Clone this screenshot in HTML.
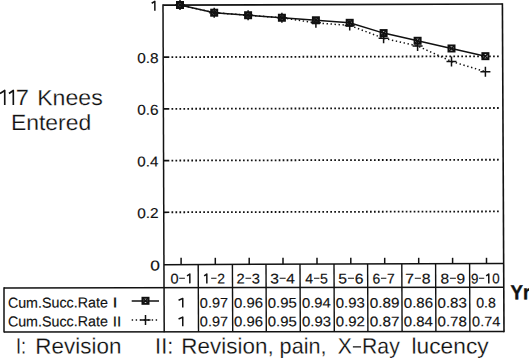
<!DOCTYPE html>
<html><head><meta charset="utf-8"><style>
html,body{margin:0;padding:0;background:#fff;width:529px;height:358px;overflow:hidden}
svg{display:block;font-family:"Liberation Sans", sans-serif;font-kerning:none;text-rendering:geometricPrecision}
</style></head><body>
<svg width="529" height="358" viewBox="0 0 529 358">
<rect width="529" height="358" fill="#fff"/>
<g transform="rotate(-0.17 2.85 105.10)"><path d="M0.00 93.46 L4.76 90.47 V105.10" fill="none" stroke="#111" stroke-width="1.65" stroke-linejoin="round" stroke-linecap="butt"/></g>
<g transform="rotate(-0.17 11.60 105.10)"><path d="M9.00 93.46 L13.34 90.47 V105.10" fill="none" stroke="#111" stroke-width="1.65" stroke-linejoin="round" stroke-linecap="butt"/></g>
<g transform="rotate(-0.17 22.40 105.10)"><text x="15.78" y="105.10" font-size="22" textLength="13.21" lengthAdjust="spacingAndGlyphs" fill="#111" stroke="#fff" stroke-width="0.2">7</text></g>
<g transform="rotate(-0.17 70.55 105.10)"><text x="37.20" y="105.10" font-size="22" textLength="65.64" lengthAdjust="spacingAndGlyphs" fill="#111" stroke="#fff" stroke-width="0.2">Knees</text></g>
<g transform="rotate(-0.17 51.30 130.00)"><text x="10.92" y="130.00" font-size="22" textLength="80.36" lengthAdjust="spacingAndGlyphs" fill="#111" stroke="#fff" stroke-width="0.2">Entered</text></g>
<g transform="rotate(-0.17 153.60 10.80)"><path d="M151.70 3.24 L154.87 1.29 V10.80" fill="none" stroke="#111" stroke-width="1.50" stroke-linejoin="round" stroke-linecap="butt"/></g>
<g transform="rotate(-0.17 147.85 62.95)"><text x="137.20" y="62.95" font-size="14.3" textLength="21.37" lengthAdjust="spacingAndGlyphs" fill="#111" stroke="#111" stroke-width="0.15">0.8</text></g>
<g transform="rotate(-0.17 147.85 114.67)"><text x="137.20" y="114.67" font-size="14.3" textLength="21.38" lengthAdjust="spacingAndGlyphs" fill="#111" stroke="#111" stroke-width="0.15">0.6</text></g>
<g transform="rotate(-0.17 147.85 166.40)"><text x="137.21" y="166.40" font-size="14.3" textLength="21.14" lengthAdjust="spacingAndGlyphs" fill="#111" stroke="#111" stroke-width="0.15">0.4</text></g>
<g transform="rotate(-0.17 147.85 218.12)"><text x="137.20" y="218.12" font-size="14.3" textLength="21.48" lengthAdjust="spacingAndGlyphs" fill="#111" stroke="#111" stroke-width="0.15">0.2</text></g>
<g transform="rotate(-0.17 155.15 270.40)"><text x="150.32" y="270.40" font-size="14.3" textLength="9.66" lengthAdjust="spacingAndGlyphs" fill="#111" stroke="#111" stroke-width="0.15">0</text></g>
<line x1="163.5" y1="57.12" x2="169.3" y2="57.11" stroke="#111" stroke-width="1.7"/>
<line x1="171.5" y1="57.10" x2="500" y2="56.28" stroke="#111" stroke-width="1.8" stroke-dasharray="1.7 2.27"/>
<line x1="163.5" y1="108.84" x2="169.3" y2="108.83" stroke="#111" stroke-width="1.7"/>
<line x1="171.5" y1="108.82" x2="500" y2="108.00" stroke="#111" stroke-width="1.8" stroke-dasharray="1.7 2.27"/>
<line x1="163.5" y1="160.56" x2="169.3" y2="160.55" stroke="#111" stroke-width="1.7"/>
<line x1="171.5" y1="160.54" x2="500" y2="159.72" stroke="#111" stroke-width="1.8" stroke-dasharray="1.7 2.27"/>
<line x1="163.5" y1="212.28" x2="169.3" y2="212.27" stroke="#111" stroke-width="1.7"/>
<line x1="171.5" y1="212.26" x2="500" y2="211.44" stroke="#111" stroke-width="1.8" stroke-dasharray="1.7 2.27"/>
<path d="M163.2 5.1 L502.4 4.0" stroke="#111" stroke-width="1.7" fill="none"/>
<path d="M163.0 4.3 L164.2 332.3" stroke="#111" stroke-width="1.5" fill="none"/>
<path d="M502.4 3.2 L504.0 332.3" stroke="#111" stroke-width="1.6" fill="none"/>
<path d="M164 264.7 L503.5 263.4" stroke="#111" stroke-width="1.5" fill="none"/>
<line x1="181.10" y1="257.8" x2="181.10" y2="264.64" stroke="#111" stroke-width="1.5"/>
<line x1="215.30" y1="257.8" x2="215.30" y2="264.51" stroke="#111" stroke-width="1.5"/>
<line x1="249.20" y1="257.8" x2="249.20" y2="264.38" stroke="#111" stroke-width="1.5"/>
<line x1="283.00" y1="257.8" x2="283.00" y2="264.25" stroke="#111" stroke-width="1.5"/>
<line x1="317.00" y1="257.8" x2="317.00" y2="264.12" stroke="#111" stroke-width="1.5"/>
<line x1="350.80" y1="257.8" x2="350.80" y2="263.99" stroke="#111" stroke-width="1.5"/>
<line x1="384.70" y1="257.8" x2="384.70" y2="263.86" stroke="#111" stroke-width="1.5"/>
<line x1="418.70" y1="257.8" x2="418.70" y2="263.73" stroke="#111" stroke-width="1.5"/>
<line x1="452.60" y1="257.8" x2="452.60" y2="263.60" stroke="#111" stroke-width="1.5"/>
<line x1="486.50" y1="257.8" x2="486.50" y2="263.47" stroke="#111" stroke-width="1.5"/>
<path d="M4 288 L503.5 287.2" stroke="#111" stroke-width="1.5" fill="none"/>
<path d="M4 331.9 L504 331.6" stroke="#111" stroke-width="1.5" fill="none"/>
<path d="M4 287.3 V332.6" stroke="#111" stroke-width="1.5" fill="none"/>
<line x1="198.2" y1="264" x2="198.5" y2="331.9" stroke="#111" stroke-width="1.4"/>
<line x1="232.4" y1="264" x2="232.70000000000002" y2="331.9" stroke="#111" stroke-width="1.4"/>
<line x1="266" y1="264" x2="266.3" y2="331.9" stroke="#111" stroke-width="1.4"/>
<line x1="300" y1="264" x2="300.3" y2="331.9" stroke="#111" stroke-width="1.4"/>
<line x1="334" y1="264" x2="334.3" y2="331.9" stroke="#111" stroke-width="1.4"/>
<line x1="367.6" y1="264" x2="367.90000000000003" y2="331.9" stroke="#111" stroke-width="1.4"/>
<line x1="401.8" y1="264" x2="402.1" y2="331.9" stroke="#111" stroke-width="1.4"/>
<line x1="435.6" y1="264" x2="435.90000000000003" y2="331.9" stroke="#111" stroke-width="1.4"/>
<line x1="469.6" y1="264" x2="469.90000000000003" y2="331.9" stroke="#111" stroke-width="1.4"/>
<g transform="rotate(-0.17 180.70 283.40)"><text x="170.43" y="283.40" font-size="14.1" textLength="8.11" lengthAdjust="spacingAndGlyphs" fill="#111" stroke="#111" stroke-width="0.15">0</text><path d="M179.27 278.25 H184.89" stroke="#111" stroke-width="1.20"/><path d="M187.08 275.94 L189.85 274.02 V283.40" fill="none" stroke="#111" stroke-width="1.50" stroke-linejoin="round" stroke-linecap="butt"/></g>
<g transform="rotate(-0.17 214.20 283.40)"><path d="M204.20 275.94 L206.84 274.02 V283.40" fill="none" stroke="#111" stroke-width="1.50" stroke-linejoin="round" stroke-linecap="butt"/><path d="M211.17 278.25 H216.53" stroke="#111" stroke-width="1.20"/><text x="217.16" y="283.40" font-size="14.1" textLength="7.74" lengthAdjust="spacingAndGlyphs" fill="#111" stroke="#111" stroke-width="0.15">2</text></g>
<g transform="rotate(-0.17 248.35 283.40)"><text x="236.56" y="283.40" font-size="14.1" textLength="8.20" lengthAdjust="spacingAndGlyphs" fill="#111" stroke="#111" stroke-width="0.15">2</text><path d="M245.50 278.25 H251.18" stroke="#111" stroke-width="1.20"/><text x="251.84" y="283.40" font-size="14.1" textLength="8.20" lengthAdjust="spacingAndGlyphs" fill="#111" stroke="#111" stroke-width="0.15">3</text></g>
<g transform="rotate(-0.17 282.70 283.40)"><text x="270.21" y="283.40" font-size="14.1" textLength="8.68" lengthAdjust="spacingAndGlyphs" fill="#111" stroke="#111" stroke-width="0.15">3</text><path d="M279.67 278.25 H285.67" stroke="#111" stroke-width="1.20"/><text x="286.38" y="283.40" font-size="14.1" textLength="8.68" lengthAdjust="spacingAndGlyphs" fill="#111" stroke="#111" stroke-width="0.15">4</text></g>
<g transform="rotate(-0.17 316.55 283.40)"><text x="305.37" y="283.40" font-size="14.1" textLength="7.90" lengthAdjust="spacingAndGlyphs" fill="#111" stroke="#111" stroke-width="0.15">4</text><path d="M313.99 278.25 H319.46" stroke="#111" stroke-width="1.20"/><text x="320.10" y="283.40" font-size="14.1" textLength="7.90" lengthAdjust="spacingAndGlyphs" fill="#111" stroke="#111" stroke-width="0.15">5</text></g>
<g transform="rotate(-0.17 350.90 283.40)"><text x="338.37" y="283.40" font-size="14.1" textLength="8.78" lengthAdjust="spacingAndGlyphs" fill="#111" stroke="#111" stroke-width="0.15">5</text><path d="M347.93 278.25 H354.01" stroke="#111" stroke-width="1.20"/><text x="354.72" y="283.40" font-size="14.1" textLength="8.78" lengthAdjust="spacingAndGlyphs" fill="#111" stroke="#111" stroke-width="0.15">6</text></g>
<g transform="rotate(-0.17 383.65 283.40)"><text x="372.49" y="283.40" font-size="14.1" textLength="7.79" lengthAdjust="spacingAndGlyphs" fill="#111" stroke="#111" stroke-width="0.15">6</text><path d="M380.98 278.25 H386.38" stroke="#111" stroke-width="1.20"/><text x="387.01" y="283.40" font-size="14.1" textLength="7.79" lengthAdjust="spacingAndGlyphs" fill="#111" stroke="#111" stroke-width="0.15">7</text></g>
<g transform="rotate(-0.17 417.90 283.40)"><text x="405.19" y="283.40" font-size="14.1" textLength="8.84" lengthAdjust="spacingAndGlyphs" fill="#111" stroke="#111" stroke-width="0.15">7</text><path d="M414.82 278.25 H420.94" stroke="#111" stroke-width="1.20"/><text x="421.65" y="283.40" font-size="14.1" textLength="8.84" lengthAdjust="spacingAndGlyphs" fill="#111" stroke="#111" stroke-width="0.15">8</text></g>
<g transform="rotate(-0.17 452.85 283.40)"><text x="440.53" y="283.40" font-size="14.1" textLength="8.63" lengthAdjust="spacingAndGlyphs" fill="#111" stroke="#111" stroke-width="0.15">8</text><path d="M449.93 278.25 H455.91" stroke="#111" stroke-width="1.20"/><text x="456.60" y="283.40" font-size="14.1" textLength="8.63" lengthAdjust="spacingAndGlyphs" fill="#111" stroke="#111" stroke-width="0.15">9</text></g>
<g transform="rotate(-0.17 485.40 283.40)"><text x="470.97" y="283.40" font-size="14.1" textLength="7.44" lengthAdjust="spacingAndGlyphs" fill="#111" stroke="#111" stroke-width="0.15">9</text><path d="M479.08 278.25 H484.24" stroke="#111" stroke-width="1.20"/><path d="M486.24 275.94 L488.79 274.02 V283.40" fill="none" stroke="#111" stroke-width="1.50" stroke-linejoin="round" stroke-linecap="butt"/><text x="492.28" y="283.40" font-size="14.1" textLength="7.44" lengthAdjust="spacingAndGlyphs" fill="#111" stroke="#111" stroke-width="0.15">0</text></g>
<g transform="rotate(-0.17 57.90 307.60)"><text x="7.88" y="307.60" font-size="14.5" textLength="99.96" lengthAdjust="spacingAndGlyphs" fill="#111" stroke="#111" stroke-width="0.15">Cum.Succ.Rate</text></g>
<g transform="rotate(-0.17 115.05 307.60)"><text x="112.52" y="307.60" font-size="14.5" textLength="5.06" lengthAdjust="spacingAndGlyphs" fill="#111" stroke="#111" stroke-width="0.15">I</text></g>
<g transform="rotate(-0.17 57.90 326.40)"><text x="7.88" y="326.40" font-size="14.5" textLength="99.96" lengthAdjust="spacingAndGlyphs" fill="#111" stroke="#111" stroke-width="0.15">Cum.Succ.Rate</text></g>
<g transform="rotate(-0.17 117.05 326.40)"><text x="112.78" y="326.40" font-size="14.5" textLength="8.54" lengthAdjust="spacingAndGlyphs" fill="#111" stroke="#111" stroke-width="0.15">II</text></g>
<g transform="rotate(-0.17 181.10 307.60)"><path d="M178.60 300.30 L182.78 298.42 V307.60" fill="none" stroke="#111" stroke-width="1.50" stroke-linejoin="round" stroke-linecap="butt"/></g>
<g transform="rotate(-0.17 213.85 307.60)"><text x="199.83" y="307.60" font-size="13.8" textLength="28.19" lengthAdjust="spacingAndGlyphs" fill="#111" stroke="#111" stroke-width="0.15">0.97</text></g>
<g transform="rotate(-0.17 248.50 307.60)"><text x="234.02" y="307.60" font-size="13.8" textLength="29.04" lengthAdjust="spacingAndGlyphs" fill="#111" stroke="#111" stroke-width="0.15">0.96</text></g>
<g transform="rotate(-0.17 282.30 307.60)"><text x="267.82" y="307.60" font-size="13.8" textLength="29.01" lengthAdjust="spacingAndGlyphs" fill="#111" stroke="#111" stroke-width="0.15">0.95</text></g>
<g transform="rotate(-0.17 316.50 307.60)"><text x="302.02" y="307.60" font-size="13.8" textLength="28.81" lengthAdjust="spacingAndGlyphs" fill="#111" stroke="#111" stroke-width="0.15">0.94</text></g>
<g transform="rotate(-0.17 350.30 307.60)"><text x="335.82" y="307.60" font-size="13.8" textLength="29.04" lengthAdjust="spacingAndGlyphs" fill="#111" stroke="#111" stroke-width="0.15">0.93</text></g>
<g transform="rotate(-0.17 384.50 307.60)"><text x="369.70" y="307.60" font-size="13.8" textLength="29.72" lengthAdjust="spacingAndGlyphs" fill="#111" stroke="#111" stroke-width="0.15">0.89</text></g>
<g transform="rotate(-0.17 418.45 307.60)"><text x="403.81" y="307.60" font-size="13.8" textLength="29.35" lengthAdjust="spacingAndGlyphs" fill="#111" stroke="#111" stroke-width="0.15">0.86</text></g>
<g transform="rotate(-0.17 452.15 307.60)"><text x="437.51" y="307.60" font-size="13.8" textLength="29.35" lengthAdjust="spacingAndGlyphs" fill="#111" stroke="#111" stroke-width="0.15">0.83</text></g>
<g transform="rotate(-0.17 181.10 326.30)"><path d="M178.60 319.00 L182.78 317.12 V326.30" fill="none" stroke="#111" stroke-width="1.50" stroke-linejoin="round" stroke-linecap="butt"/></g>
<g transform="rotate(-0.17 213.85 326.30)"><text x="199.83" y="326.30" font-size="13.8" textLength="28.19" lengthAdjust="spacingAndGlyphs" fill="#111" stroke="#111" stroke-width="0.15">0.97</text></g>
<g transform="rotate(-0.17 248.50 326.30)"><text x="234.02" y="326.30" font-size="13.8" textLength="29.04" lengthAdjust="spacingAndGlyphs" fill="#111" stroke="#111" stroke-width="0.15">0.96</text></g>
<g transform="rotate(-0.17 282.30 326.30)"><text x="267.82" y="326.30" font-size="13.8" textLength="29.01" lengthAdjust="spacingAndGlyphs" fill="#111" stroke="#111" stroke-width="0.15">0.95</text></g>
<g transform="rotate(-0.17 316.50 326.30)"><text x="302.02" y="326.30" font-size="13.8" textLength="29.04" lengthAdjust="spacingAndGlyphs" fill="#111" stroke="#111" stroke-width="0.15">0.93</text></g>
<g transform="rotate(-0.17 350.30 326.30)"><text x="335.82" y="326.30" font-size="13.8" textLength="29.14" lengthAdjust="spacingAndGlyphs" fill="#111" stroke="#111" stroke-width="0.15">0.92</text></g>
<g transform="rotate(-0.17 384.50 326.30)"><text x="369.70" y="326.30" font-size="13.8" textLength="29.77" lengthAdjust="spacingAndGlyphs" fill="#111" stroke="#111" stroke-width="0.15">0.87</text></g>
<g transform="rotate(-0.17 418.45 326.30)"><text x="403.82" y="326.30" font-size="13.8" textLength="29.12" lengthAdjust="spacingAndGlyphs" fill="#111" stroke="#111" stroke-width="0.15">0.84</text></g>
<g transform="rotate(-0.17 452.15 326.30)"><text x="437.51" y="326.30" font-size="13.8" textLength="29.34" lengthAdjust="spacingAndGlyphs" fill="#111" stroke="#111" stroke-width="0.15">0.78</text></g>
<g transform="rotate(-0.17 485.95 307.60)"><text x="476.15" y="307.60" font-size="13.8" textLength="19.67" lengthAdjust="spacingAndGlyphs" fill="#111" stroke="#111" stroke-width="0.15">0.8</text></g>
<g transform="rotate(-0.17 486.25 326.30)"><text x="472.14" y="326.30" font-size="13.8" textLength="28.09" lengthAdjust="spacingAndGlyphs" fill="#111" stroke="#111" stroke-width="0.15">0.74</text></g>
<g transform="rotate(-0.17 520.40 299.20)"><text x="510.48" y="299.20" font-size="20.2" font-weight="bold" textLength="19.80" lengthAdjust="spacingAndGlyphs" fill="#111" stroke="#111" stroke-width="0.4">Yr</text></g>
<g transform="rotate(-0.17 21.10 353.50)"><text x="16.01" y="353.50" font-size="22" textLength="10.16" lengthAdjust="spacingAndGlyphs" fill="#111" stroke="#fff" stroke-width="0.2">I:</text></g>
<g transform="rotate(-0.17 78.55 353.50)"><text x="35.36" y="353.50" font-size="22" textLength="86.00" lengthAdjust="spacingAndGlyphs" fill="#111" stroke="#fff" stroke-width="0.2">Revision</text></g>
<g transform="rotate(-0.17 164.20 353.50)"><text x="155.08" y="353.50" font-size="22" textLength="18.21" lengthAdjust="spacingAndGlyphs" fill="#111" stroke="#fff" stroke-width="0.2">II:</text></g>
<g transform="rotate(-0.17 227.40 353.50)"><text x="181.36" y="353.50" font-size="22" textLength="92.26" lengthAdjust="spacingAndGlyphs" fill="#111" stroke="#fff" stroke-width="0.2">Revision,</text></g>
<g transform="rotate(-0.17 302.80 353.50)"><text x="279.60" y="353.50" font-size="22" textLength="46.94" lengthAdjust="spacingAndGlyphs" fill="#111" stroke="#fff" stroke-width="0.2">pain,</text></g>
<g transform="rotate(-0.17 368.95 353.50)"><text x="337.72" y="353.50" font-size="22" textLength="14.14" lengthAdjust="spacingAndGlyphs" fill="#111" stroke="#fff" stroke-width="0.2">X</text><path d="M352.92 346.79 H361.09" stroke="#111" stroke-width="1.35"/><text x="362.04" y="353.50" font-size="22" textLength="37.70" lengthAdjust="spacingAndGlyphs" fill="#111" stroke="#fff" stroke-width="0.2">Ray</text></g>
<g transform="rotate(-0.17 450.85 353.50)"><text x="411.57" y="353.50" font-size="22" textLength="77.08" lengthAdjust="spacingAndGlyphs" fill="#111" stroke="#fff" stroke-width="0.2">lucency</text></g>
<rect x="177.00" y="2.00" width="6.00" height="6.00" fill="#fff" stroke="#111" stroke-width="2"/><path d="M177.00 2.00 L183.00 8.00 M183.00 2.00 L177.00 8.00" stroke="#111" stroke-width="1.5"/>
<rect x="211.20" y="9.70" width="6.00" height="6.00" fill="#fff" stroke="#111" stroke-width="2"/><path d="M211.20 9.70 L217.20 15.70 M217.20 9.70 L211.20 15.70" stroke="#111" stroke-width="1.5"/>
<rect x="245.10" y="12.23" width="6.00" height="6.00" fill="#fff" stroke="#111" stroke-width="2"/><path d="M245.10 12.23 L251.10 18.23 M251.10 12.23 L245.10 18.23" stroke="#111" stroke-width="1.5"/>
<rect x="278.90" y="14.75" width="6.00" height="6.00" fill="#fff" stroke="#111" stroke-width="2"/><path d="M278.90 14.75 L284.90 20.75 M284.90 14.75 L278.90 20.75" stroke="#111" stroke-width="1.5"/>
<rect x="312.90" y="17.28" width="6.00" height="6.00" fill="#fff" stroke="#111" stroke-width="2"/><path d="M312.90 17.28 L318.90 23.28 M318.90 17.28 L312.90 23.28" stroke="#111" stroke-width="1.5"/>
<rect x="346.70" y="19.81" width="6.00" height="6.00" fill="#fff" stroke="#111" stroke-width="2"/><path d="M346.70 19.81 L352.70 25.81 M352.70 19.81 L346.70 25.81" stroke="#111" stroke-width="1.5"/>
<rect x="380.60" y="30.09" width="6.00" height="6.00" fill="#fff" stroke="#111" stroke-width="2"/><path d="M380.60 30.09 L386.60 36.09 M386.60 30.09 L380.60 36.09" stroke="#111" stroke-width="1.5"/>
<rect x="414.60" y="37.78" width="6.00" height="6.00" fill="#fff" stroke="#111" stroke-width="2"/><path d="M414.60 37.78 L420.60 43.78 M420.60 37.78 L414.60 43.78" stroke="#111" stroke-width="1.5"/>
<rect x="448.50" y="45.48" width="6.00" height="6.00" fill="#fff" stroke="#111" stroke-width="2"/><path d="M448.50 45.48 L454.50 51.48 M454.50 45.48 L448.50 51.48" stroke="#111" stroke-width="1.5"/>
<rect x="482.40" y="53.17" width="6.00" height="6.00" fill="#fff" stroke="#111" stroke-width="2"/><path d="M482.40 53.17 L488.40 59.17 M488.40 53.17 L482.40 59.17" stroke="#111" stroke-width="1.5"/>
<polyline points="180.0,5.0 214.2,12.7 248.1,15.2 281.9,17.8 315.9,22.9 349.7,25.4 383.6,38.3 417.6,46.0 451.5,61.4 485.4,71.7" fill="none" stroke="#111" stroke-width="1.5" stroke-dasharray="1.4 2.6"/>
<polyline points="180.0,5.0 214.2,12.7 248.1,15.2 281.9,17.8 315.9,20.3 349.7,22.8 383.6,33.1 417.6,40.8 451.5,48.5 485.4,56.2" fill="none" stroke="#111" stroke-width="1.5"/>
<path d="M175.00 5.00 H185.00 M180.00 0.00 V10.00" stroke="#111" stroke-width="1.5"/>
<path d="M209.20 12.70 H219.20 M214.20 7.70 V17.70" stroke="#111" stroke-width="1.5"/>
<path d="M243.10 15.23 H253.10 M248.10 10.23 V20.23" stroke="#111" stroke-width="1.5"/>
<path d="M276.90 17.75 H286.90 M281.90 12.75 V22.75" stroke="#111" stroke-width="1.5"/>
<path d="M310.90 22.86 H320.90 M315.90 17.86 V27.86" stroke="#111" stroke-width="1.5"/>
<path d="M344.70 25.39 H354.70 M349.70 20.39 V30.39" stroke="#111" stroke-width="1.5"/>
<path d="M378.60 38.25 H388.60 M383.60 33.25 V43.25" stroke="#111" stroke-width="1.5"/>
<path d="M412.60 45.95 H422.60 M417.60 40.95 V50.95" stroke="#111" stroke-width="1.5"/>
<path d="M446.50 61.40 H456.50 M451.50 56.40 V66.40" stroke="#111" stroke-width="1.5"/>
<path d="M480.40 71.68 H490.40 M485.40 66.68 V76.68" stroke="#111" stroke-width="1.5"/>
<rect x="142.50" y="297.80" width="6.00" height="6.00" fill="#fff" stroke="#111" stroke-width="2"/><path d="M142.50 297.80 L148.50 303.80 M148.50 297.80 L142.50 303.80" stroke="#111" stroke-width="1.5"/>
<line x1="131.7" y1="301" x2="159" y2="301" stroke="#111" stroke-width="1.5"/>
<line x1="131.7" y1="320" x2="159" y2="320" stroke="#111" stroke-width="1.5" stroke-dasharray="1.4 2.6"/>
<path d="M140.50 320.00 H150.50 M145.50 315.00 V325.00" stroke="#111" stroke-width="1.5"/>
</svg>
</body></html>
